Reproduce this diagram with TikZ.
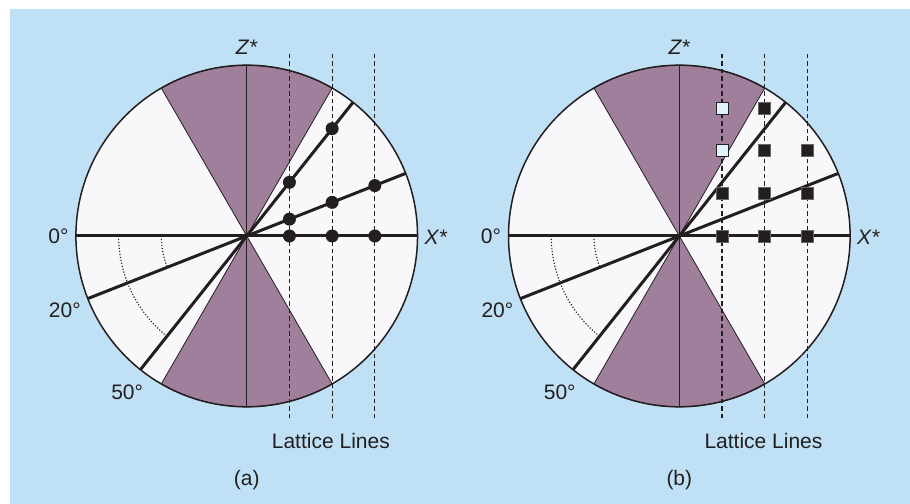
\documentclass[tikz,border=0pt]{standalone}
\usepackage{fontspec}
\setmainfont{Liberation Sans}
\usepackage{tikz}

\definecolor{bgblue}{RGB}{192,224,245}
\definecolor{wedgec}{RGB}{159,127,156}
\definecolor{diskc}{RGB}{248,247,250}
\definecolor{hollowc}{RGB}{222,243,251}
\definecolor{ink}{RGB}{35,31,32}

\begin{document}
\begin{tikzpicture}[x=42.7pt, y=42.7pt, every node/.style={font=\fontsize{21}{25}\selectfont, text=ink},
	rim/.style={draw=ink, line width=1.5pt},
	wedge/.style={fill=wedgec, draw=ink, line width=0.8pt},
	axisline/.style={draw=ink, line width=1.4pt},
	beam/.style={draw=ink, line width=3pt},
	lattice/.style={draw=ink, line width=1.2pt, dash pattern=on 4.5pt off 3pt},
	anglearc/.style={draw=ink, line width=1.1pt, dash pattern=on 1.2pt off 1.8pt},
	latdot/.style={circle, fill=ink, inner sep=0pt, minimum size=13pt},
	latsq/.style={rectangle, fill=ink, draw=black!60, line width=0.6pt, inner sep=0pt, minimum size=12pt},
	openfsq/.style={latsq, fill=hollowc, draw=ink}]
	\useasboundingbox (0,0) rectangle (21.311,11.803);
	\fill[bgblue] (0.234,0) rectangle (21.311,11.593);
	% panel (a)
	\begin{scope}[shift={(5.778,6.276)}]
		\fill[diskc] (0,0) circle (4);
		\path[wedge] (0,0) -- (60:4) arc (60:120:4) -- cycle;
		\path[wedge] (0,0) -- (240:4) arc (240:300:4) -- cycle;
		\path[axisline] (0,-4) -- (0,4);
		\path[beam] (180:4) -- (0:4);
		\path[beam] (201.5:4) -- (21.5:4);
		\path[beam] (231.5:4) -- (51.5:4);
		\path[rim] (0,0) circle (4);
		\path[lattice] (1,-4.27) -- (1,4.27);
		\path[lattice] (2,-4.27) -- (2,4.27);
		\path[lattice] (3,-4.27) -- (3,4.27);
		\path[anglearc] (180:2) arc (180:201.5:2);
		\path[anglearc] (180:3) arc (180:231.5:3);
		\node[latdot] (a10) at (1,0) {};
		\node[latdot] (a20) at (2,0) {};
		\node[latdot] (a30) at (3,0) {};
		\node[latdot] (a11) at (1,0.394) {};
		\node[latdot] (a21) at (2,0.788) {};
		\node[latdot] (a31) at (3,1.181) {};
		\node[latdot] (a12) at (1,1.257) {};
		\node[latdot] (a22) at (2,2.514) {};
		\node (za) at (0,4.43) {\textit{Z*}};
		\node (xa) at (4.43,-0.02) {\textit{X*}};
		\node (a0) at (-4.41,0) {0°};
		\node (a20deg) at (-4.26,-1.73) {20°};
		\node (a50deg) at (-2.80,-3.67) {50°};
		\node (lla) at (1.97,-4.79) {Lattice Lines};
		\node (capa) at (0,-5.72) {(a)};
	\end{scope}
	% panel (b)
	\begin{scope}[shift={(15.909,6.276)}]
		\fill[diskc] (0,0) circle (4);
		\path[wedge] (0,0) -- (60:4) arc (60:120:4) -- cycle;
		\path[wedge] (0,0) -- (240:4) arc (240:300:4) -- cycle;
		\path[axisline] (0,-4) -- (0,4);
		\path[beam] (180:4) -- (0:4);
		\path[beam] (201.5:4) -- (21.5:4);
		\path[beam] (231.5:4) -- (51.5:4);
		\path[rim] (0,0) circle (4);
		\path[lattice] (1,-4.27) -- (1,4.27);
		\path[lattice] (2,-4.27) -- (2,4.27);
		\path[lattice] (3,-4.27) -- (3,4.27);
		\path[anglearc] (180:2) arc (180:201.5:2);
		\path[anglearc] (180:3) arc (180:231.5:3);
		\node[latsq] (b10) at (1,0) {};
		\node[latsq] (b20) at (2,0) {};
		\node[latsq] (b30) at (3,0) {};
		\node[latsq] (b11) at (1,1) {};
		\node[latsq] (b21) at (2,1) {};
		\node[latsq] (b31) at (3,1) {};
		\node[openfsq] (b12) at (1,2) {};
		\node[latsq] (b22) at (2,2) {};
		\node[latsq] (b32) at (3,2) {};
		\node[openfsq] (b13) at (1,3) {};
		\node[latsq] (b23) at (2,3) {};
		\node (zb) at (0,4.43) {\textit{Z*}};
		\node (xb) at (4.43,-0.02) {\textit{X*}};
		\node (b0) at (-4.41,0) {0°};
		\node (b20deg) at (-4.26,-1.73) {20°};
		\node (b50deg) at (-2.80,-3.67) {50°};
		\node (llb) at (1.97,-4.79) {Lattice Lines};
		\node (capb) at (0,-5.72) {(b)};
	\end{scope}
\end{tikzpicture}
\end{document}
